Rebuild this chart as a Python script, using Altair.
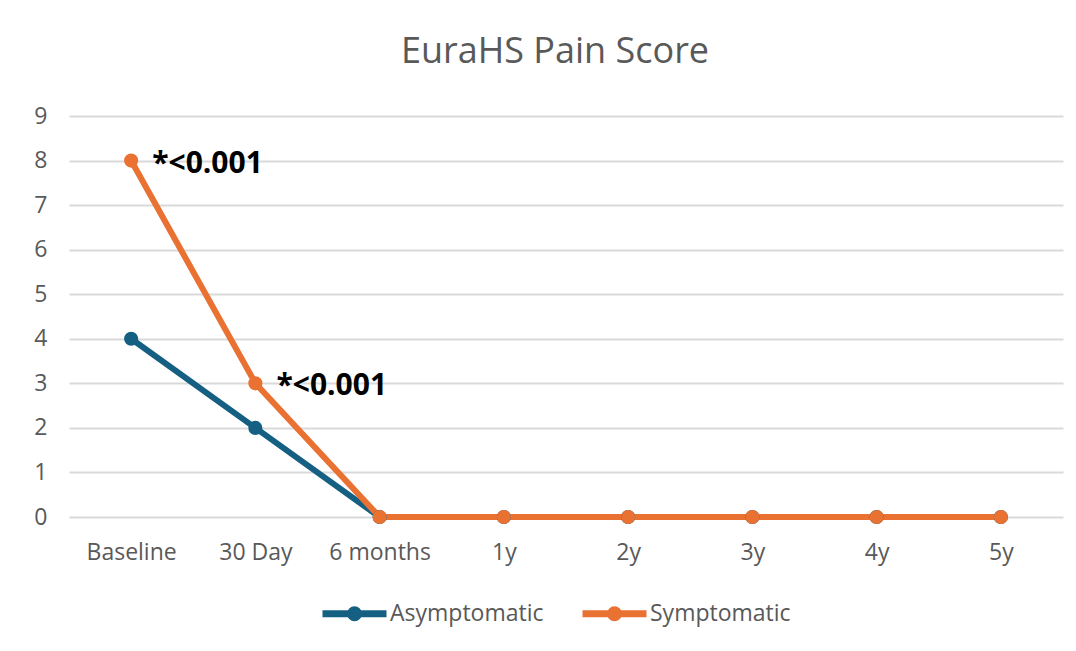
import altair as alt
import pandas as pd

categories = ["Baseline", "30 Day", "6 months", "1y", "2y", "3y", "4y", "5y"]
asymptomatic = [4, 2, 0, 0, 0, 0, 0, 0]
symptomatic = [8, 3, 0, 0, 0, 0, 0, 0]
series_names = ["Asymptomatic", "Symptomatic"]
series_colors = ["#156082", "#E97132"]

ann_categories = ["Baseline", "30 Day"]
ann_values = [8, 3]
ann_texts = ["*<0.001", "*<0.001"]

rows = []
for name, vals in zip(series_names, [asymptomatic, symptomatic]):
    for c, v in zip(categories, vals):
        rows.append({"Time": c, "Score": v, "Group": name})
df = pd.DataFrame(rows)
ann_df = pd.DataFrame({"Time": ann_categories, "Score": ann_values, "Label": ann_texts})

FONT = "Open Sans"
GREY = "#595959"

x = alt.X("Time:N", sort=categories, scale=alt.Scale(type="point", padding=0.5),
          axis=alt.Axis(title=None, labelAngle=0, domain=False, ticks=False, grid=False,
                        labelFontSize=23, labelColor=GREY, labelFont=FONT, labelPadding=24))
y = alt.Y("Score:Q", scale=alt.Scale(domain=[0, 9], nice=False, zero=True),
          axis=alt.Axis(title=None, values=list(range(10)), domain=False, ticks=False,
                        gridColor="#D9D9D9", gridWidth=2, labelFontSize=23, labelColor=GREY,
                        labelFont=FONT, labelPadding=22))

# legend symbol: a thick line with a dot in the middle (stroked path)
legend_path = ("M-1,0H1 "
               "M0.125,0A0.125,0.125,0,1,1,-0.125,0A0.125,0.125,0,1,1,0.125,0Z")

legend = alt.Legend(title=None, orient="none", direction="horizontal",
                    legendX=250, legendY=462,
                    symbolType=legend_path, symbolSize=4096,
                    symbolStrokeWidth=7, symbolOpacity=1,
                    labelOffset=0, columnPadding=24,
                    labelFontSize=23, labelColor=GREY, labelFont=FONT)
cscale = alt.Scale(domain=series_names, range=series_colors)
color = alt.Color("Group:N", scale=cscale, legend=legend)

lines = alt.Chart(df).mark_line(strokeWidth=6).encode(x=x, y=y, color=color)
points = alt.Chart(df).mark_point(filled=True, size=200, opacity=1).encode(x=x, y=y, color=color)
texts = alt.Chart(ann_df).mark_text(align="left", baseline="middle", dx=21, dy=3,
                                    fontSize=30, fontWeight="bold", font=FONT,
                                    color="black").encode(x=x, y=y, text="Label:N")

chart = alt.layer(lines, points, texts).properties(
    width=994, height=401,
    autosize=alt.AutoSizeParams(type="none"),
    padding={"left": 61, "top": 108, "right": 5, "bottom": 118},
    title=alt.TitleParams("EuraHS Pain Score", fontSize=36, font=FONT, fontWeight="normal",
                          color=GREY, anchor="middle", frame="group", baseline="alphabetic",
                          offset=6, dx=-11),
).configure_view(stroke=None)

chart.save("out.html", embed_options={"renderer": "svg", "actions": False})
